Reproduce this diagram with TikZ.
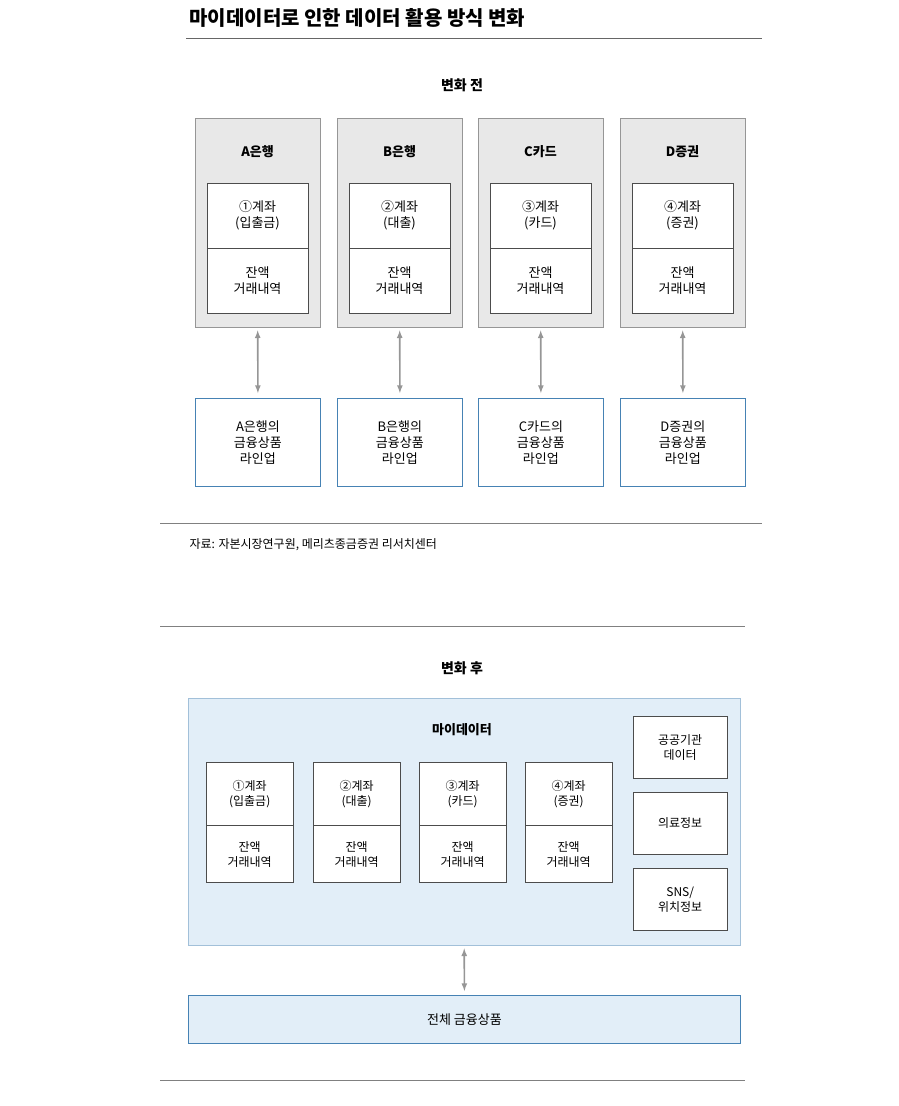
\documentclass[tikz,border=0pt]{standalone}
\usepackage{fontspec}
\setmainfont{Noto Sans CJK KR}
\usepackage{tikz}
\definecolor{bankgray}{RGB}{232,232,232}
\definecolor{linegray}{RGB}{150,150,150}
\definecolor{lineblue}{RGB}{70,130,180}
\definecolor{paleblue}{RGB}{226,238,248}
\tikzset{
	bank/.style={draw=linegray, fill=bankgray, minimum width=125pt, minimum height=209pt, anchor=north west},
	cell/.style={draw=black!70, fill=white, minimum width=101pt, minimum height=65pt, align=center, font=\fontsize{13}{16}\selectfont},
	lineup/.style={draw=lineblue, thick, fill=white, minimum width=125pt, minimum height=88pt, align=center, anchor=north west, font=\fontsize{13}{16}\selectfont},
	small/.style={draw=black!70, fill=white, minimum width=87pt, align=center, font=\fontsize{12}{15}\selectfont},
	link/.style={<->, >=latex, draw=linegray, line width=1.6pt}
}
\begin{document}
\begin{tikzpicture}[x=1pt,y=-1pt]
	\useasboundingbox (0,0) rectangle (898,1106);
	\node[anchor=west, font=\bfseries\fontsize{20}{24}\selectfont] (title) at (186,18) {마이데이터로 인한 데이터 활용 방식 변화};
	\draw[black!60] (186,38) -- (762,38);
	\node[font=\bfseries\fontsize{14}{17}\selectfont] (before) at (462,85) {변화 전};
	% before
	\foreach \x/\n/\b/\c/\l [count=\i] in {195/A/A은행/①계좌\\(입출금)/A은행의, 337/B/B은행/②계좌\\(대출)/B은행의, 478/C/C카드/③계좌\\(카드)/C카드의, 620/D/D증권/④계좌\\(증권)/D증권의} {
		\node[bank] (bank\n) at (\x,118) {};
		\node[font=\bfseries\fontsize{13}{16}\selectfont] (name\n) at (\x+62.5,152) {\b};
		\node[cell, anchor=north] (acct\n) at (\x+62.5,183) {\c};
		\node[cell, anchor=north] (bal\n) at (acct\n.south) {잔액\\거래내역};
		\node[lineup] (line\n) at (\x,398) {\l\\금융상품\\라인업};
		\draw[link] ([yshift=-3pt]bank\n.south) -- ([yshift=5pt]line\n.north);
	}
	\draw[black!50] (160,523) -- (762,523);
	\node[anchor=west, font=\fontsize{12}{15}\selectfont] (src) at (186,545) {자료: 자본시장연구원, 메리츠종금증권 리서치센터};
	\draw[black!50] (160,626) -- (745,626);
	\node[font=\bfseries\fontsize{14}{17}\selectfont] (after) at (462,668) {변화 후};
	% after
	\node[draw=lineblue!50, fill=paleblue, minimum width=552pt, minimum height=247pt, anchor=north west] (mydata) at (188,698) {};
	\node[font=\bfseries\fontsize{13}{16}\selectfont] (mytitle) at (462,730) {마이데이터};
	\foreach \x/\c [count=\i] in {206/①계좌\\(입출금), 313/②계좌\\(대출), 419/③계좌\\(카드), 525/④계좌\\(증권)} {
		\node[small, minimum height=63pt, anchor=north west] (macct\i) at (\x,762) {\c};
		\node[small, minimum height=57pt, anchor=north] (mbal\i) at (macct\i.south) {잔액\\거래내역};
	}
	\foreach \y/\t [count=\i] in {716/{공공기관\\데이터}, 792/{의료정보}, 868/{SNS/\\위치정보}} {
		\node[small, minimum width=94pt, minimum height=62pt, anchor=north west] (extra\i) at (633,\y) {\t};
	}
	\node[draw=lineblue, thick, fill=paleblue, minimum width=552pt, minimum height=48pt, anchor=north west, font=\fontsize{13}{16}\selectfont] (all) at (188,995) {전체 금융상품};
	\draw[link] ([yshift=-3pt]mydata.south) -- ([yshift=4pt]all.north);
	\draw[black!50] (160,1080) -- (745,1080);
\end{tikzpicture}
\end{document}
